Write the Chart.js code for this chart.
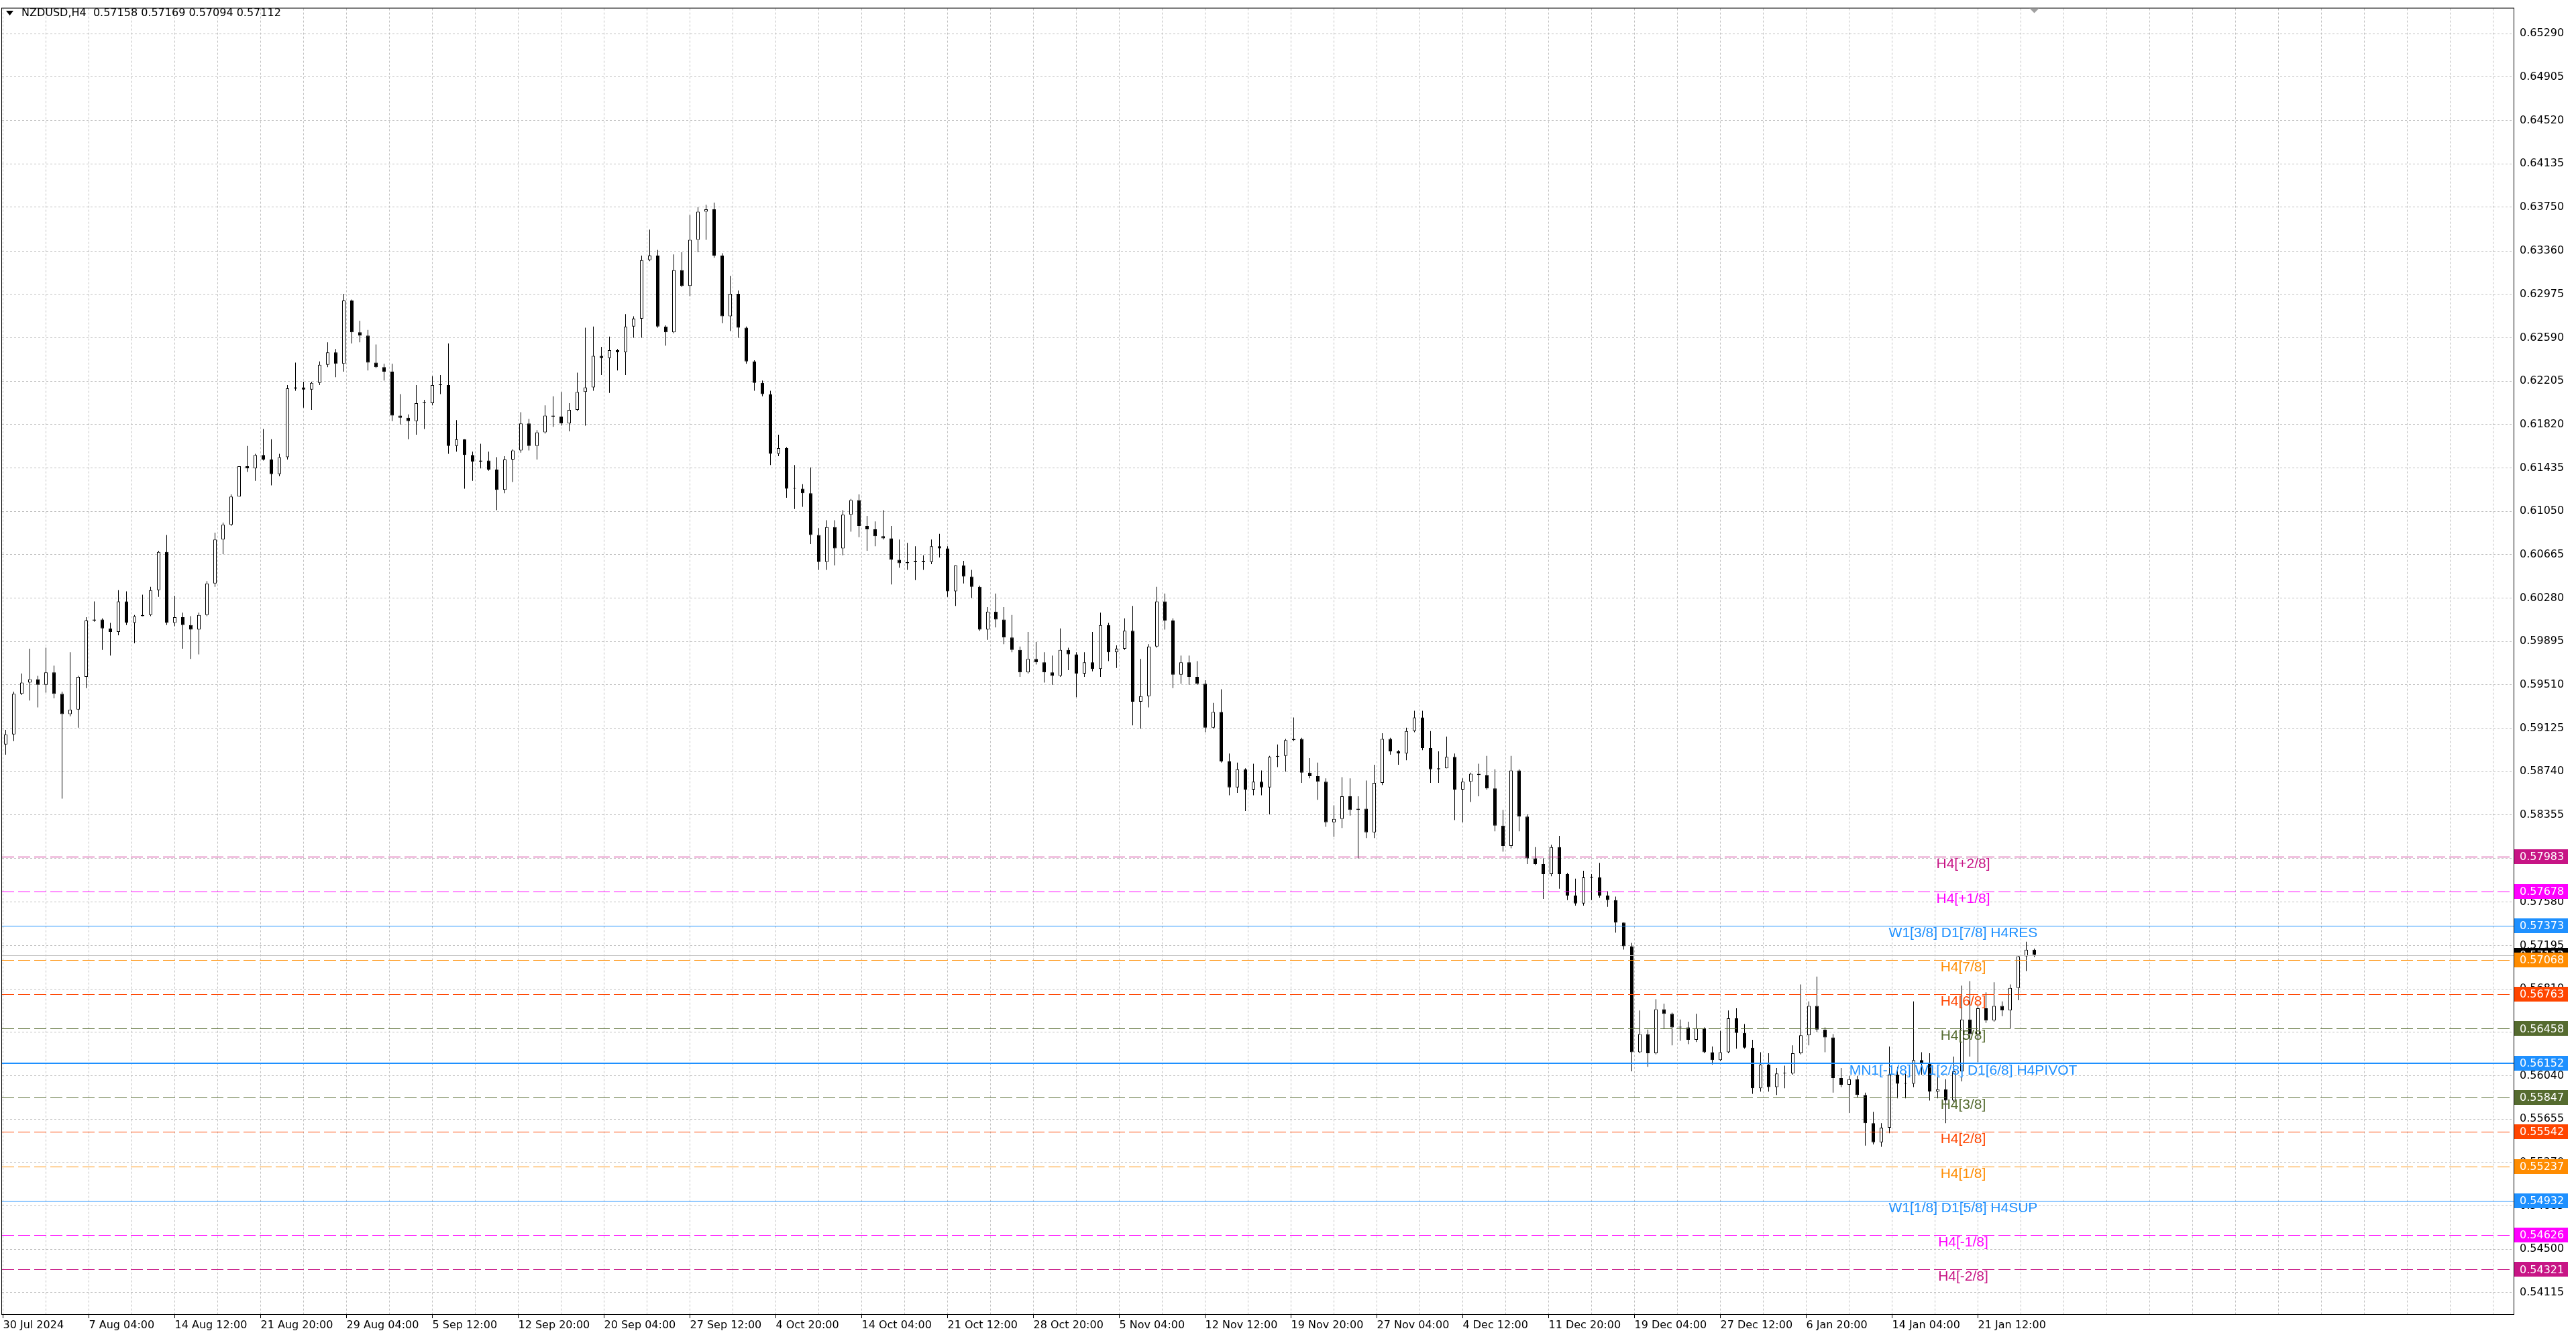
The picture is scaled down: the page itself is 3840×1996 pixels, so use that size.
<!DOCTYPE html>
<html lang="en">
<head>
<meta charset="UTF-8">
<title>NZDUSD,H4</title>
<script src="https://cdn.jsdelivr.net/npm/chart.js"></script>
<style>
  html, body { margin: 0; padding: 0; background: #fff; }
  canvas { display: block; }
</style>
</head>
<body>
<canvas id="priceChart" width="3840" height="1996"></canvas>
<script>
// --- data ---
const symbolName = 'NZDUSD,H4';
const lastBar = [0.57158, 0.57169, 0.57094, 0.57112]; // open, high, low, close of the live H4 bar

// one label every 32 H4 bars, starting at the first bar
const timeLabels = ['30 Jul 2024', '7 Aug 04:00', '14 Aug 12:00', '21 Aug 20:00', '29 Aug 04:00',
  '5 Sep 12:00', '12 Sep 20:00', '20 Sep 04:00', '27 Sep 12:00', '4 Oct 20:00', '14 Oct 04:00',
  '21 Oct 12:00', '28 Oct 20:00', '5 Nov 04:00', '12 Nov 12:00', '19 Nov 20:00', '27 Nov 04:00',
  '4 Dec 12:00', '11 Dec 20:00', '19 Dec 04:00', '27 Dec 12:00', '6 Jan 20:00', '14 Jan 04:00',
  '21 Jan 12:00'];

const priceTicks = [0.65290, 0.64905, 0.64520, 0.64135, 0.63750, 0.63360, 0.62975, 0.62590,
  0.62205, 0.61820, 0.61435, 0.61050, 0.60665, 0.60280, 0.59895, 0.59510, 0.59125, 0.58740,
  0.58355, 0.57970, 0.57580, 0.57195, 0.56810, 0.56425, 0.56040, 0.55655, 0.55270, 0.54885,
  0.54500, 0.54115];

// candles, each one spans 3 H4 bars (the live bar is the last one)
const firstOpen = 0.5898;
const closes = [
  0.5907, 0.5943, 0.5953, 0.5956, 0.5951, 0.5962, 0.5943, 0.5925, 0.5929, 0.5958,
  0.6008, 0.6009, 0.6001, 0.5998, 0.6025, 0.6006, 0.6012, 0.6013, 0.6035, 0.6069,
  0.6006, 0.6011, 0.6004, 0.6000, 0.6013, 0.6041, 0.6080, 0.6093, 0.6118, 0.6145,
  0.6143, 0.6155, 0.6151, 0.6138, 0.6153, 0.6214, 0.6215, 0.6213, 0.6219, 0.6235,
  0.6246, 0.6236, 0.6292, 0.6264, 0.6261, 0.6237, 0.6233, 0.6229, 0.6190, 0.6188,
  0.6185, 0.6201, 0.6201, 0.6217, 0.6217, 0.6163, 0.6169, 0.6155, 0.6149, 0.6150,
  0.6142, 0.6124, 0.6151, 0.6159, 0.6183, 0.6163, 0.6175, 0.6190, 0.6189, 0.6183,
  0.6195, 0.6211, 0.6215, 0.6243, 0.6241, 0.6248, 0.6246, 0.6269, 0.6276, 0.6328,
  0.6332, 0.6269, 0.6264, 0.6319, 0.6305, 0.6346, 0.6371, 0.6373, 0.6332, 0.6278,
  0.6298, 0.6268, 0.6238, 0.6219, 0.6209, 0.6156, 0.6161, 0.6125, 0.6125, 0.6121,
  0.6084, 0.6060, 0.6091, 0.6072, 0.6102, 0.6115, 0.6092, 0.6089, 0.6083, 0.6081,
  0.6062, 0.6059, 0.6060, 0.6061, 0.6060, 0.6074, 0.6072, 0.6034, 0.6057, 0.6047,
  0.6038, 0.6000, 0.6016, 0.6009, 0.5993, 0.5982, 0.5962, 0.5974, 0.5971, 0.5962,
  0.5959, 0.5982, 0.5978, 0.5961, 0.5971, 0.5965, 0.6004, 0.5980, 0.5983, 0.5999,
  0.5936, 0.5941, 0.5985, 0.6025, 0.6008, 0.5960, 0.5971, 0.5958, 0.5952, 0.5913,
  0.5927, 0.5883, 0.5860, 0.5876, 0.5858, 0.5865, 0.5860, 0.5887, 0.5888, 0.5902,
  0.5903, 0.5873, 0.5870, 0.5865, 0.5829, 0.5832, 0.5852, 0.5840, 0.5841, 0.5820,
  0.5864, 0.5903, 0.5892, 0.5890, 0.5910, 0.5922, 0.5895, 0.5876, 0.5877, 0.5887,
  0.5858, 0.5865, 0.5872, 0.5871, 0.5859, 0.5826, 0.5808, 0.5875, 0.5834, 0.5797,
  0.5792, 0.5783, 0.5807, 0.5783, 0.5764, 0.5757, 0.5780, 0.5780, 0.5764, 0.5760,
  0.5740, 0.5719, 0.5625, 0.5641, 0.5624, 0.5663, 0.5659, 0.5647, 0.5647, 0.5636,
  0.5646, 0.5625, 0.5618, 0.5625, 0.5655, 0.5642, 0.5629, 0.5593, 0.5614, 0.5594,
  0.5606, 0.5606, 0.5624, 0.5640, 0.5666, 0.5645, 0.5638, 0.5602, 0.5596, 0.5601,
  0.5587, 0.5562, 0.5545, 0.5558, 0.5605, 0.5597, 0.5597, 0.5618, 0.5615, 0.5590,
  0.5592, 0.5582, 0.5608, 0.5654, 0.5641, 0.5664, 0.5653, 0.5666, 0.5662, 0.5682,
  0.5710, 0.57158, 0.57112
];
const highs = [
  0.5911, 0.5945, 0.5961, 0.5983, 0.5959, 0.5984, 0.5968, 0.5945, 0.5980, 0.5959,
  0.6011, 0.6025, 0.6010, 0.6006, 0.6035, 0.6034, 0.6013, 0.6031, 0.6038, 0.6070,
  0.6084, 0.6030, 0.6015, 0.6012, 0.6015, 0.6043, 0.6086, 0.6095, 0.6120, 0.6145,
  0.6163, 0.6156, 0.6178, 0.6169, 0.6156, 0.6217, 0.6237, 0.6220, 0.6220, 0.6238,
  0.6255, 0.6249, 0.6298, 0.6293, 0.6274, 0.6266, 0.6253, 0.6236, 0.6236, 0.6209,
  0.6191, 0.6217, 0.6204, 0.6225, 0.6226, 0.6254, 0.6186, 0.6169, 0.6158, 0.6165,
  0.6158, 0.6153, 0.6154, 0.6160, 0.6193, 0.6187, 0.6177, 0.6199, 0.6207, 0.6211,
  0.6201, 0.6228, 0.6268, 0.6269, 0.6251, 0.6260, 0.6249, 0.6280, 0.6278, 0.6332,
  0.6355, 0.6337, 0.6270, 0.6333, 0.6335, 0.6368, 0.6375, 0.6377, 0.6379, 0.6334,
  0.6314, 0.6301, 0.6269, 0.6239, 0.6221, 0.6212, 0.6173, 0.6162, 0.6146, 0.6129,
  0.6144, 0.6090, 0.6097, 0.6097, 0.6106, 0.6116, 0.6120, 0.6101, 0.6096, 0.6106,
  0.6092, 0.6080, 0.6077, 0.6074, 0.6066, 0.6080, 0.6085, 0.6074, 0.6057, 0.6061,
  0.6053, 0.6039, 0.6020, 0.6032, 0.6020, 0.6013, 0.5985, 0.5998, 0.5989, 0.5980,
  0.5977, 0.6001, 0.5984, 0.5980, 0.5980, 0.5998, 0.6015, 0.6006, 0.5986, 0.6010,
  0.6021, 0.5974, 0.5987, 0.6038, 0.6032, 0.6010, 0.5977, 0.5977, 0.5972, 0.5955,
  0.5935, 0.5947, 0.5890, 0.5882, 0.5877, 0.5881, 0.5875, 0.5888, 0.5898, 0.5903,
  0.5922, 0.5904, 0.5886, 0.5882, 0.5868, 0.5844, 0.5869, 0.5868, 0.5852, 0.5866,
  0.5880, 0.5908, 0.5904, 0.5893, 0.5913, 0.5928, 0.5928, 0.5910, 0.5892, 0.5905,
  0.5890, 0.5868, 0.5873, 0.5881, 0.5888, 0.5876, 0.5840, 0.5888, 0.5876, 0.5836,
  0.5807, 0.5797, 0.5809, 0.5817, 0.5784, 0.5779, 0.5786, 0.5783, 0.5793, 0.5768,
  0.5763, 0.5740, 0.5722, 0.5662, 0.5645, 0.5672, 0.5668, 0.5660, 0.5654, 0.5652,
  0.5659, 0.5647, 0.5630, 0.5644, 0.5662, 0.5664, 0.5650, 0.5636, 0.5625, 0.5624,
  0.5611, 0.5613, 0.5631, 0.5685, 0.5670, 0.5692, 0.5647, 0.5641, 0.5611, 0.5604,
  0.5604, 0.5589, 0.5572, 0.5562, 0.5630, 0.5612, 0.5608, 0.5670, 0.5625, 0.5624,
  0.5611, 0.5601, 0.5621, 0.5684, 0.5688, 0.5666, 0.5678, 0.5687, 0.5670, 0.5685,
  0.5711, 0.5723, 0.57169
];
const lows = [
  0.5889, 0.5901, 0.5942, 0.5937, 0.5931, 0.5944, 0.5939, 0.5850, 0.5923, 0.5913,
  0.5948, 0.6007, 0.5982, 0.5977, 0.5995, 0.6004, 0.5988, 0.6012, 0.6012, 0.6029,
  0.6004, 0.6003, 0.5983, 0.5974, 0.5978, 0.6012, 0.6038, 0.6067, 0.6092, 0.6118,
  0.6140, 0.6132, 0.6150, 0.6128, 0.6136, 0.6151, 0.6212, 0.6197, 0.6195, 0.6217,
  0.6233, 0.6224, 0.6229, 0.6254, 0.6255, 0.6230, 0.6232, 0.6221, 0.6185, 0.6182,
  0.6169, 0.6173, 0.6178, 0.6199, 0.6209, 0.6156, 0.6158, 0.6125, 0.6132, 0.6143,
  0.6141, 0.6106, 0.6121, 0.6131, 0.6157, 0.6159, 0.6151, 0.6174, 0.6180, 0.6181,
  0.6176, 0.6194, 0.6181, 0.6212, 0.6226, 0.6210, 0.6230, 0.6226, 0.6259, 0.6259,
  0.6327, 0.6268, 0.6252, 0.6263, 0.6304, 0.6296, 0.6335, 0.6346, 0.6330, 0.6272,
  0.6265, 0.6259, 0.6236, 0.6212, 0.6207, 0.6146, 0.6154, 0.6117, 0.6107, 0.6109,
  0.6076, 0.6053, 0.6053, 0.6057, 0.6066, 0.6087, 0.6082, 0.6070, 0.6074, 0.6080,
  0.6040, 0.6055, 0.6053, 0.6044, 0.6053, 0.6058, 0.6064, 0.6029, 0.6021, 0.6041,
  0.6028, 0.5999, 0.5991, 0.6002, 0.5987, 0.5980, 0.5958, 0.5961, 0.5969, 0.5953,
  0.5951, 0.5958, 0.5964, 0.5940, 0.5958, 0.5963, 0.5958, 0.5972, 0.5966, 0.5982,
  0.5915, 0.5912, 0.5931, 0.5984, 0.6000, 0.5948, 0.5952, 0.5951, 0.5951, 0.5909,
  0.5912, 0.5882, 0.5853, 0.5855, 0.5839, 0.5853, 0.5853, 0.5836, 0.5878, 0.5874,
  0.5901, 0.5864, 0.5868, 0.5849, 0.5825, 0.5816, 0.5824, 0.5835, 0.5797, 0.5815,
  0.5815, 0.5862, 0.5889, 0.5880, 0.5884, 0.5909, 0.5893, 0.5864, 0.5864, 0.5877,
  0.5831, 0.5829, 0.5847, 0.5852, 0.5858, 0.5821, 0.5803, 0.5806, 0.5821, 0.5792,
  0.5791, 0.5761, 0.5781, 0.5770, 0.5760, 0.5755, 0.5755, 0.5760, 0.5762, 0.5754,
  0.5731, 0.5716, 0.5608, 0.5624, 0.5612, 0.5623, 0.5646, 0.5631, 0.5635, 0.5632,
  0.5634, 0.5624, 0.5614, 0.5617, 0.5624, 0.5628, 0.5628, 0.5588, 0.5590, 0.5590,
  0.5587, 0.5593, 0.5605, 0.5623, 0.5631, 0.5643, 0.5625, 0.5589, 0.5594, 0.5571,
  0.5585, 0.5542, 0.5543, 0.5541, 0.5553, 0.5584, 0.5584, 0.5594, 0.5605, 0.5582,
  0.5584, 0.5562, 0.5580, 0.5599, 0.5621, 0.5616, 0.5651, 0.5652, 0.5657, 0.5646,
  0.5671, 0.5697, 0.57094
];

// Murrey math levels drawn by the indicator
const levelPrices = [0.57983, 0.57678, 0.57373, 0.57068, 0.56763, 0.56458, 0.56152,
  0.55847, 0.55542, 0.55237, 0.54932, 0.54626, 0.54321];
const levelNames = ['H4[+2/8]', 'H4[+1/8]', 'W1[3/8] D1[7/8] H4RES', 'H4[7/8]', 'H4[6/8]',
  'H4[5/8]', 'MN1[-1/8] W1[2/8] D1[6/8] H4PIVOT', 'H4[3/8]', 'H4[2/8]', 'H4[1/8]',
  'W1[1/8] D1[5/8] H4SUP', 'H4[-1/8]', 'H4[-2/8]'];

// --- drawing ---
const BARS_PER_CANDLE = 3;
const DASH = [18, 6];
const levelLook = [
  {color: '#C71585', dash: DASH, width: 1},
  {color: '#FF00FF', dash: DASH, width: 1},
  {color: '#1E90FF', dash: [], width: 1},
  {color: '#FF8C00', dash: DASH, width: 1},
  {color: '#FF4500', dash: DASH, width: 1},
  {color: '#556B2F', dash: DASH, width: 1},
  {color: '#1E90FF', dash: [], width: 2},
  {color: '#556B2F', dash: DASH, width: 1},
  {color: '#FF4500', dash: DASH, width: 1},
  {color: '#FF8C00', dash: DASH, width: 1},
  {color: '#1E90FF', dash: [], width: 1},
  {color: '#FF00FF', dash: DASH, width: 1},
  {color: '#C71585', dash: DASH, width: 1}
];
const FONT = '"DejaVu Sans", Verdana, sans-serif';

const opens = closes.map((c, i) => (i === 0 ? firstOpen : closes[i - 1]));
const candleBar = i => BARS_PER_CANDLE * i + 1;

const wickData = closes.map((c, i) => ({
  x: candleBar(i),
  y: [Math.min(lows[i], opens[i], c), Math.max(highs[i], opens[i], c)]
}));
const bodyData = closes.map((c, i) => ({x: candleBar(i), y: [opens[i], c]}));

const mtOverlay = {
  id: 'mtOverlay',
  afterDatasetsDraw(chart) {
    const {ctx, chartArea: a, scales: {x, y}} = chart;
    ctx.save();
    ctx.beginPath();
    ctx.rect(a.left, a.top, a.right - a.left, a.bottom - a.top);
    ctx.clip();

    // bid line
    const by = Math.round(y.getPixelForValue(lastBar[3])) + 0.5;
    ctx.strokeStyle = '#c0c0c0';
    ctx.lineWidth = 1;
    ctx.setLineDash([]);
    ctx.beginPath(); ctx.moveTo(a.left, by); ctx.lineTo(a.right, by); ctx.stroke();

    levelPrices.forEach((p, i) => {
      const look = levelLook[i];
      const py = Math.round(y.getPixelForValue(p)) + (look.width % 2 ? 0.5 : 0);
      ctx.strokeStyle = look.color;
      ctx.lineWidth = look.width;
      ctx.setLineDash(look.dash);
      ctx.beginPath(); ctx.moveTo(a.left, py); ctx.lineTo(a.right, py); ctx.stroke();
    });

    ctx.setLineDash([]);
    ctx.font = '21px "Liberation Sans", Arial, sans-serif';
    ctx.textAlign = 'center';
    ctx.textBaseline = 'alphabetic';
    const lx = x.getPixelForValue(730.5);
    levelPrices.forEach((p, i) => {
      ctx.fillStyle = levelLook[i].color;
      ctx.fillText(levelNames[i], lx, y.getPixelForValue(p) + 17);
    });
    ctx.restore();
  },
  afterDraw(chart) {
    const {ctx, chartArea: a, scales: {x, y}} = chart;
    ctx.save();

    // frame around the price window
    ctx.strokeStyle = '#000';
    ctx.lineWidth = 1;
    ctx.strokeRect(a.left - 0.5, a.top - 0.5, a.right - a.left + 1, a.bottom - a.top + 1);

    // price tags on the right scale
    ctx.font = '16px ' + FONT;
    ctx.textAlign = 'left';
    ctx.textBaseline = 'middle';
    const tag = (price, bg) => {
      const py = y.getPixelForValue(price);
      ctx.fillStyle = bg;
      ctx.fillRect(a.right + 1, Math.round(py) - 11, 80, 22);
      ctx.fillStyle = '#fff';
      ctx.fillText(price.toFixed(5), a.right + 9, py + 1);
    };
    tag(lastBar[3], '#000');
    levelPrices.forEach((p, i) => tag(p, levelLook[i].color));

    // header line
    ctx.fillStyle = '#000';
    ctx.beginPath();
    ctx.moveTo(9, 16); ctx.lineTo(20, 16); ctx.lineTo(14.5, 23); ctx.closePath();
    ctx.fill();
    ctx.fillText(symbolName + '  ' + lastBar.map(v => v.toFixed(5)).join(' '), 32, 20);

    // chart shift marker
    const sx = x.getPixelForValue(candleBar(closes.length - 1));
    ctx.fillStyle = '#a0a0a0';
    ctx.beginPath();
    ctx.moveTo(sx - 7, a.top); ctx.lineTo(sx + 7, a.top); ctx.lineTo(sx, a.top + 7); ctx.closePath();
    ctx.fill();
    ctx.restore();
  }
};

new Chart(document.getElementById('priceChart').getContext('2d'), {
  type: 'bar',
  data: {
    datasets: [
      {
        label: 'body',
        data: bodyData,
        grouped: false,
        barThickness: 5,
        minBarLength: 1,
        inflateAmount: 0,
        borderSkipped: false,
        borderWidth: 1,
        borderColor: '#000',
        backgroundColor: c => (closes[c.dataIndex] >= opens[c.dataIndex] ? '#ffffff' : '#000000'),
        order: 0
      },
      {
        label: 'wick',
        data: wickData,
        grouped: false,
        barThickness: 1,
        inflateAmount: 0,
        borderWidth: 0,
        backgroundColor: '#000',
        order: 1
      }
    ]
  },
  options: {
    responsive: false,
    animation: false,
    devicePixelRatio: 1,
    events: [],
    layout: {padding: {left: 3, top: 4, right: 0, bottom: 0}},
    plugins: {legend: {display: false}, tooltip: {enabled: false}},
    scales: {
      x: {
        type: 'linear',
        min: -0.375,
        max: 935.625,
        offset: false,
        afterBuildTicks: s => {
          s.ticks = [];
          for (let b = 0; b <= 928; b += 16) s.ticks.push({value: b});
        },
        afterFit: s => { s.height = 37; },
        ticks: {
          autoSkip: false,
          maxRotation: 0,
          minRotation: 0,
          align: 'start',
          padding: 1,
          color: '#000',
          font: {family: FONT, size: 16},
          callback: v => (v % 32 === 0 && v / 32 < timeLabels.length ? timeLabels[v / 32] : '')
        },
        grid: {
          offset: false,
          color: '#c0c0c0',
          tickLength: 6,
          tickBorderDash: [],
          tickColor: c => (c.tick && c.tick.value % 32 === 0 && c.tick.value / 32 < timeLabels.length ? '#000' : 'rgba(0,0,0,0)')
        },
        border: {color: '#000', dash: [3, 3]}
      },
      y: {
        type: 'linear',
        position: 'right',
        min: 0.539243,
        max: 0.655129,
        afterBuildTicks: s => { s.ticks = priceTicks.map(v => ({value: v})); },
        afterFit: s => { s.width = 93; },
        ticks: {
          padding: 3,
          color: '#000',
          font: {family: FONT, size: 16},
          callback: v => v.toFixed(5)
        },
        grid: {color: '#c0c0c0', tickLength: 6, tickColor: 'rgba(0,0,0,0)'},
        border: {color: '#000', dash: [3, 3]}
      }
    }
  },
  plugins: [mtOverlay]
});
</script>
</body>
</html>
